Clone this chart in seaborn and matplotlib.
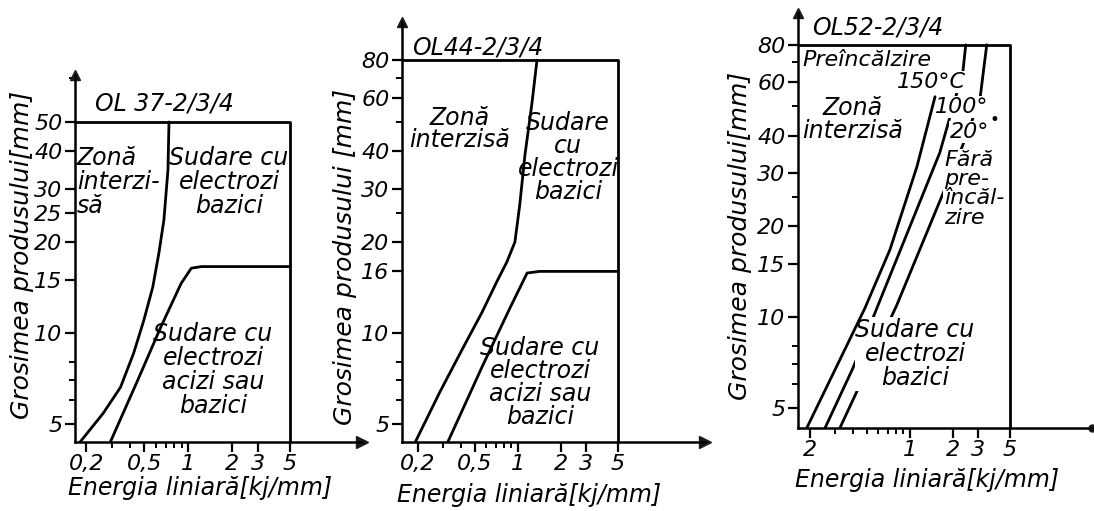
import numpy as np
import pandas as pd
import seaborn as sns
import matplotlib.pyplot as plt

W, H = 1094, 511

# OL 37-2/3/4 : limit of forbidden zone and of the acid-electrode zone
ol37_zone_x = [0.181, 0.261, 0.343, 0.422, 0.495, 0.571, 0.629, 0.681, 0.726, 0.738]
ol37_zone_y = [4.36, 5.43, 6.62, 8.58, 11.0, 14.2, 18.4, 23.7, 34.7, 50.0]
ol37_acid_x = [0.292, 0.45, 0.65, 0.894, 1.05, 1.23, 5.0]
ol37_acid_y = [4.36, 6.98, 10.5, 14.6, 16.4, 16.6, 16.6]
ol37_top = 50

# OL 44-2/3/4
ol44_zone_x = [0.192, 0.285, 0.413, 0.561, 0.713, 0.838, 0.953, 1.03, 1.12, 1.25, 1.36]
ol44_zone_y = [4.36, 6.38, 8.92, 11.7, 14.8, 17.2, 20.0, 26.5, 38.8, 56.9, 80.0]
ol44_acid_x = [0.324, 0.570, 0.880, 1.16, 1.42, 5.0]
ol44_acid_y = [4.36, 7.84, 12.1, 15.8, 16.0, 16.0]
ol44_top = 80

# OL 52-2/3/4 : preheating curves 150 / 100 / 20 C
ol52_150_x = [0.190, 0.485, 0.725, 1.12, 1.50]
ol52_150_y = [4.28, 10.7, 16.7, 31.5, 53.8]
ol52_100_x = [0.255, 0.40, 0.60, 1.62, 2.35, 2.46]
ol52_100_y = [4.28, 6.77, 10.96, 35.1, 65.2, 80.0]
ol52_20_x = [0.324, 0.508, 0.811, 2.24, 3.09, 3.45]
ol52_20_y = [4.28, 6.77, 10.96, 35.1, 52.6, 80.0]
ol52_top = 80

x_right = 5  # right border of the diagrams (kJ/mm)

# ticks
x_major = [0.2, 0.5, 1, 2, 3, 5]
x_labels = ["0,2", "0,5", "1", "2", "3", "5"]
x_minor = [0.3, 0.4, 0.6, 0.7, 0.8, 0.9]
x3_major = [0.2, 1, 2, 3, 5]
x3_labels = ["2", "1", "2", "3", "5"]
x3_minor = [0.3, 0.4, 0.5, 0.6, 0.7, 0.8, 0.9]
y1_major = [5, 10, 15, 20, 25, 30, 40, 50]
y1_labels = ["5", "10", "15", "20", "25", "30", "40", "50"]
y2_major = [5, 10, 16, 20, 30, 40, 60, 80]
y2_labels = ["5", "10", "16", "20", "30", "40", "60", "80"]
y3_major = [5, 10, 15, 20, 30, 40, 60, 80]
y3_labels = ["5", "10", "15", "20", "30", "40", "60", "80"]
y_minor = [6, 7, 8, 25, 50, 70]

sns.set_theme(style="ticks")
plt.rcParams["font.family"] = ["DejaVu Sans"]
plt.rcParams["font.style"] = "italic"
plt.rcParams["text.color"] = "black"
plt.rcParams["axes.labelcolor"] = "black"
plt.rcParams["axes.linewidth"] = 1.8
plt.rcParams["xtick.major.width"] = 1.6
plt.rcParams["ytick.major.width"] = 1.6
plt.rcParams["xtick.minor.width"] = 1.4
plt.rcParams["ytick.minor.width"] = 1.4
plt.rcParams["xtick.color"] = "black"
plt.rcParams["ytick.color"] = "black"

fig = plt.figure(figsize=(W / 100, H / 100), dpi=100)
fig.patch.set_facecolor("white")


def make_ax(l, t, r, b, xlim, ylim):
    ax = fig.add_axes([l / W, 1 - b / H, (r - l) / W, (b - t) / H])
    ax.set_xscale("log")
    ax.set_yscale("log")
    ax.set_xlim(*xlim)
    ax.set_ylim(*ylim)
    ax.set_facecolor("white")
    for s in ["top", "right"]:
        ax.spines[s].set_visible(False)
    for s in ["left", "bottom"]:
        ax.spines[s].set_color("black")
    return ax


def put(ax, x, y, s, size=17, **kw):
    ax.text(x / W, 1 - y / H, s, transform=fig.transFigure, fontsize=size,
            fontstyle="italic", color="black", **kw)


def ticks(ax, xmaj, xlab, xmin, ymaj, ylab):
    ax.set_xticks(xmaj, xlab)
    ax.set_xticks(xmin, minor=True)
    ax.set_yticks(ymaj, ylab)
    ax.set_yticks(y_minor, minor=True)
    ax.xaxis.set_minor_formatter(plt.NullFormatter())
    ax.yaxis.set_minor_formatter(plt.NullFormatter())
    ax.tick_params(axis="both", which="major", length=7, labelsize=16, pad=2,
                   labelcolor="black")
    ax.tick_params(axis="both", which="minor", length=4)
    for lab in ax.get_xticklabels() + ax.get_yticklabels():
        lab.set_fontstyle("italic")


def curve(ax, xs, ys, z=2):
    df = pd.DataFrame({"x": xs, "y": ys})
    sns.lineplot(data=df, x="x", y="y", ax=ax, color="black", lw=2.0,
                 sort=False, estimator=None, zorder=z)


def frame(ax, top, arrow_end=">"):
    xmin = ax.get_xlim()[0]
    ymin = ax.get_ylim()[0]
    ax.plot([xmin, x_right, x_right], [top, top, ymin], color="black", lw=2.0, zorder=2)
    ax.plot(0, 1, "^k", ms=7, transform=ax.transAxes, clip_on=False)
    if arrow_end == ">":
        ax.plot(1, 0, ">k", ms=8, transform=ax.transAxes, clip_on=False)
    else:
        ax.plot(1, 0, "ok", ms=5, transform=ax.transAxes, clip_on=False)
    ax.set_xlabel("")
    ax.set_ylabel("")


# ---------- panel 1 ----------
ax1 = make_ax(75, 75, 362, 442, (0.167, 15.6), (4.36, 71.5))
curve(ax1, ol37_zone_x, ol37_zone_y)
curve(ax1, ol37_acid_x, ol37_acid_y)
frame(ax1, ol37_top)
ticks(ax1, x_major, x_labels, x_minor, y1_major, y1_labels)
put(ax1, 95, 103, "OL 37-2/3/4", va="center")
put(ax1, 77, 146, "Zonă\ninterzi-\nsă", va="top", linespacing=1.0)
put(ax1, 229, 146, "Sudare cu\nelectrozi\nbazici", ha="center", va="top",
    linespacing=1.0)
put(ax1, 213, 322, "Sudare cu\nelectrozi\nacizi sau\nbazici", ha="center",
    va="top", linespacing=1.0)
fig.text(22 / W, 1 - 255 / H, "Grosimea produsului[mm]", rotation=90,
         ha="center", va="center", fontsize=18, fontstyle="italic", color="black")
fig.text(200 / W, 1 - 488 / H, "Energia liniară[kj/mm]", ha="center",
         va="center", fontsize=17, fontstyle="italic", color="black")

# ---------- panel 2 ----------
ax2 = make_ax(402, 22, 705, 442, (0.155, 20.3), (4.36, 107))
curve(ax2, ol44_zone_x, ol44_zone_y)
curve(ax2, ol44_acid_x, ol44_acid_y)
frame(ax2, ol44_top)
ticks(ax2, x_major, x_labels, x_minor, y2_major, y2_labels)
put(ax2, 412, 47, "OL44-2/3/4", va="center")
put(ax2, 460, 106, "Zonă\ninterzisă", ha="center", va="top", linespacing=0.9)
put(ax2, 568, 111, "Sudare\ncu\nelectrozi\nbazici", ha="center", va="top",
    linespacing=0.95)
put(ax2, 540, 336, "Sudare cu\nelectrozi\nacizi sau\nbazici", ha="center",
    va="top", linespacing=0.95)
fig.text(345 / W, 1 - 257 / H, "Grosimea produsului [mm]", rotation=90,
         ha="center", va="center", fontsize=18, fontstyle="italic", color="black")
fig.text(529 / W, 1 - 495 / H, "Energia liniară[kj/mm]", ha="center",
         va="center", fontsize=17, fontstyle="italic", color="black")

# ---------- panel 3 ----------
ax3 = make_ax(798, 13, 1092, 428, (0.165, 18.8), (4.28, 102))
curve(ax3, ol52_150_x, ol52_150_y, z=5)
curve(ax3, ol52_100_x, ol52_100_y)
curve(ax3, ol52_20_x, ol52_20_y)
frame(ax3, ol52_top, arrow_end="o")
ticks(ax3, x3_major, x3_labels, x3_minor, y3_major, y3_labels)
wb = dict(facecolor="white", edgecolor="none", pad=0.5)
put(ax3, 812, 27, "OL52-2/3/4", va="center")
put(ax3, 802, 60, "Preîncălzire", va="center", size=16, bbox=wb, zorder=3)
put(ax3, 897, 82, "150°C", va="center", size=16, bbox=wb, zorder=3)
put(ax3, 853, 96, "Zonă\ninterzisă", ha="center", va="top", linespacing=0.95)
put(ax3, 935, 107, "100°", va="center", size=16, bbox=wb, zorder=3)
put(ax3, 950, 132, "20°", va="center", size=16, bbox=wb, zorder=3)
put(ax3, 990, 120, "•", va="center", size=12)
put(ax3, 944, 150, "Fără\npre-\nîncăl-\nzire", va="top", size=16,
    linespacing=0.95, bbox=wb, zorder=3)
put(ax3, 915, 318, "Sudare cu\nelectrozi\nbazici", ha="center", va="top",
    linespacing=1.0, bbox=wb, zorder=3)
fig.text(740 / W, 1 - 236 / H, "Grosimea produsului[mm]", rotation=90,
         ha="center", va="center", fontsize=18, fontstyle="italic", color="black")
fig.text(927 / W, 1 - 480 / H, "Energia liniară[kj/mm]", ha="center",
         va="center", fontsize=17, fontstyle="italic", color="black")

fig.savefig("out.png", dpi=100, facecolor="white")
